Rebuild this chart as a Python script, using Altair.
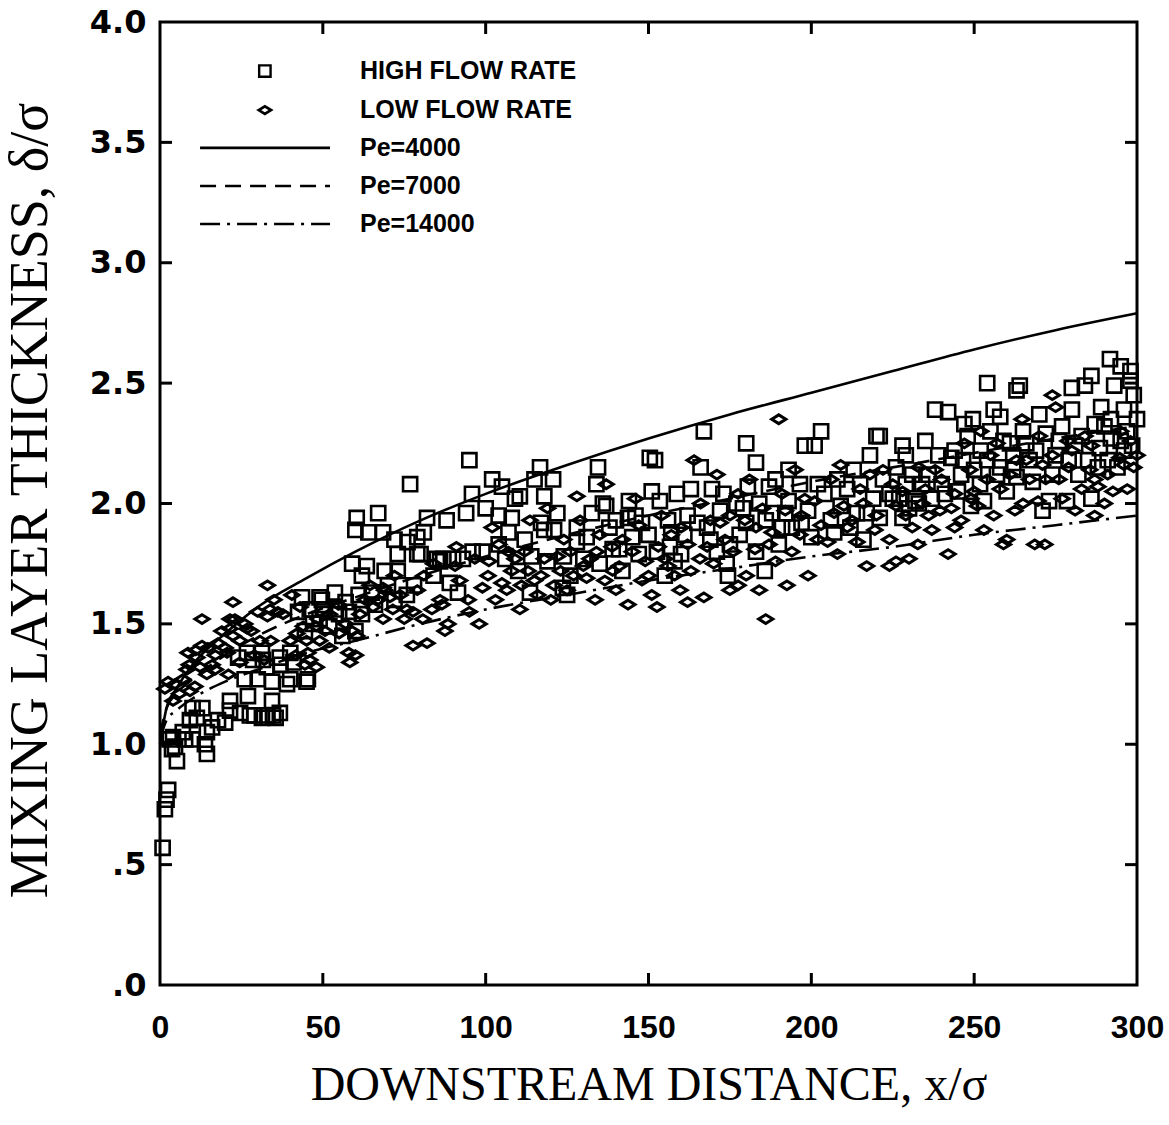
import altair as alt
import pandas as pd

# ---------------- data ----------------
hi_pts = [
    (0.8, 0.57), (1.5, 0.73), (2, 0.77), (2.5, 0.81), (3, 1.02), (3.7, 0.98), (4.6, 0.99), (5.2, 0.93),
    (4, 1.03), (7, 1.05), (7.7, 1.02), (9.2, 1.10), (10, 1.02), (10, 1.15), (11.3, 1.11), (13, 1.15),
    (13.8, 1.0), (14.4, 0.96), (14.4, 1.05), (16, 1.07), (17.8, 1.10), (20, 1.09), (21.5, 1.14),
    (24.6, 1.13), (27.6, 1.12), (31.3, 1.11), (34.7, 1.12), (36.8, 1.13), (35.5, 1.11), (33, 1.12),
    (29, 1.12), (21.5, 1.18), (27, 1.20), (34.4, 1.18), (26, 1.27), (30, 1.27), (34.4, 1.26), (39, 1.25),
    (45, 1.26), (32.8, 1.32), (37, 1.33), (41, 1.34), (24, 1.36), (28.6, 1.35), (31.6, 1.35), (26.7, 1.38),
    (31.3, 1.38), (36.8, 1.36), (40, 1.38),
    (43.6, 1.61), (49.7, 1.60), (53.7, 1.63), (42.4, 1.55), (46, 1.56), (50, 1.56), (54, 1.56), (58, 1.55),
    (57, 1.59), (62, 1.54), (49, 1.61), (61, 1.62), (44.5, 1.47), (49, 1.52), (55, 1.54), (47, 1.50),
    (52, 1.49), (56, 1.45), (60, 1.47), (45.4, 1.27), (40, 1.27),
    (60.4, 1.94), (67, 1.96), (60, 1.89), (64, 1.88), (68.5, 1.88), (72, 1.85), (79, 1.86), (81, 1.88),
    (73, 1.79), (79, 1.79), (59, 1.75), (63.5, 1.74), (69, 1.72), (73, 1.72), (76.8, 2.08), (82, 1.94),
    (88, 1.93), (94, 1.96), (100, 1.98), (95.8, 2.04), (95, 2.18), (85, 1.77), (87, 1.77), (90, 1.77),
    (93, 1.77), (96, 1.80), (99, 1.80), (75.8, 1.62), (91.5, 1.63), (65, 1.63), (76, 1.84), (80, 1.79),
    (86, 1.76), (70, 1.66), (84, 1.70), (89, 1.67), (66, 1.58), (72, 1.60), (78, 1.66), (62, 1.70),
    (102, 2.10), (108, 1.94), (115, 2.10), (116.7, 2.15), (120.7, 2.10), (122, 1.96), (113.6, 1.63),
    (123.7, 1.65), (130, 1.77), (132.6, 1.96), (134.5, 2.15), (134, 2.08), (139, 1.81), (143.7, 1.94),
    (150.4, 2.19), (152.6, 1.80), (156.6, 1.82), (158.7, 2.04), (104, 1.83), (106, 1.77), (110, 1.72),
    (112, 1.85), (118, 1.89), (121, 1.89), (125, 1.62), (126, 1.70), (128, 1.84), (137, 1.99), (140, 1.93),
    (144, 2.01), (147, 1.79), (152, 2.18), (153.5, 2.01), (156, 1.93), (160, 1.79), (110.5, 2.03),
    (118, 2.03), (105, 2.07), (128, 1.90), (135, 1.75), (142, 1.72), (145, 1.86), (148, 1.92), (150, 1.87),
    (155, 1.70), (158, 1.76), (119, 1.76), (107, 1.88), (136, 2.00), (141, 1.81),
    (104, 1.95), (109, 2.02), (114, 1.78), (117, 1.92), (124, 1.78), (131, 1.86), (138, 1.90), (146, 1.95),
    (151, 2.05), (157, 1.88),
    (163, 2.06), (166, 2.15), (167, 2.30), (169, 1.85), (169.5, 2.06), (172, 1.97), (174, 1.75),
    (174.4, 1.70), (175, 1.83), (178, 1.87), (180, 2.25), (180, 1.92), (180.5, 2.07), (183, 2.17),
    (185.7, 1.72), (186, 1.93), (190, 1.83), (193, 2.14), (193, 2.01), (194, 1.90), (196.5, 2.08),
    (198, 2.24), (201, 2.24), (203, 2.30), (206, 1.93), (209, 1.99), (213, 2.14), (216, 1.85), (218, 2.20),
    (220, 2.28), (165, 1.92), (171, 1.80), (177, 2.00), (183, 1.80), (188, 1.96), (191, 1.90), (199, 1.97),
    (204, 2.04), (207, 1.88), (211, 2.06), (214, 1.96), (219, 2.02), (161, 1.87), (189, 2.10), (200, 1.86),
    (212, 1.90), (162, 1.95), (168, 1.90), (173, 2.04), (179, 1.98), (184, 2.00), (187, 2.07), (192, 1.96),
    (197, 1.92), (202, 2.08), (208, 2.10), (215, 2.08), (217, 1.96),
    (221, 2.28), (221, 1.94), (224, 2.04), (225, 2.02), (227, 2.02), (228, 1.94), (228, 2.24), (229, 2.20),
    (229, 2.08), (232, 2.01), (233, 2.00), (235, 2.26), (238, 2.39), (242, 2.38), (241, 2.04), (243, 2.19),
    (244, 2.22), (246.6, 2.18), (247, 2.33), (249, 1.99), (249.6, 2.35), (250, 2.14), (251.8, 2.08),
    (253, 2.01), (254, 2.50), (256, 2.39), (258, 2.15), (259, 2.26), (261, 2.25), (262, 2.14), (263, 2.47),
    (263, 2.11), (264, 2.49), (267, 2.18), (268, 2.09), (270, 2.37), (271, 1.97), (272, 2.29), (273, 2.01),
    (276, 2.26), (278.5, 2.01), (279, 2.18), (280, 2.48), (280, 2.39), (284, 2.49), (286, 2.53), (286, 2.02),
    (287, 2.33), (288.6, 2.23), (290, 2.32), (291.7, 2.60), (292, 2.35), (293, 2.49), (294, 2.15),
    (295, 2.57), (295, 2.26), (296, 2.39), (298, 2.51), (298, 2.55), (298.5, 2.24), (236, 2.12), (240, 2.08),
    (255, 2.30), (260, 2.05), (265, 2.30), (275, 2.20), (282, 2.12), (289, 2.40), (297, 2.30), (226, 2.15),
    (231, 2.12), (245, 2.05), (252, 2.22), (257, 2.12), (266, 2.25), (274, 2.12), (283, 2.28), (285, 2.18),
    (291, 2.18), (299, 2.45), (222, 2.10), (230, 1.98), (234, 2.08), (237, 2.02), (239, 2.20), (246, 2.12),
    (248, 2.28), (254, 2.18), (258, 2.36), (262, 2.20), (269, 2.22), (277, 2.32), (281, 2.24), (288, 2.15),
    (292, 2.27), (296, 2.22), (300, 2.35),
]

lo_pts = [
    (1.5, 1.23), (2.5, 1.26), (4, 1.18), (4.6, 1.25), (6, 1.21), (7, 1.27), (8.3, 1.31), (8.6, 1.38),
    (9, 1.33), (9.2, 1.22), (10.7, 1.24), (11, 1.39), (11.3, 1.36), (12.3, 1.32), (12.9, 1.52), (12.9, 1.41),
    (14.4, 1.29), (14.7, 1.40), (16, 1.33), (17, 1.37), (17.8, 1.42), (19, 1.47), (20, 1.40), (20.6, 1.38),
    (21.5, 1.52), (21.5, 1.48), (22.4, 1.59), (22.4, 1.45), (23, 1.52), (24.5, 1.43), (26, 1.50),
    (26.7, 1.48), (28, 1.47), (30, 1.55), (30.7, 1.43), (33, 1.66), (33, 1.53), (33.8, 1.56), (35, 1.60),
    (36.2, 1.55), (37.8, 1.54), (40, 1.43), (41.7, 1.37), (44.5, 1.33), (17, 1.31), (21, 1.29), (24.5, 1.34),
    (29, 1.37), (32, 1.35), (34, 1.43),
    (42, 1.46), (44, 1.49), (48, 1.49), (45, 1.43), (49, 1.43), (46, 1.35), (48, 1.32), (58.3, 1.34),
    (45.4, 1.38), (58, 1.38), (59, 1.47), (60.4, 1.45), (48.5, 1.52), (50.7, 1.47), (52, 1.54), (54.7, 1.58),
    (57, 1.50), (60, 1.37), (61.4, 1.54), (55, 1.46), (52, 1.40), (40.5, 1.62), (43, 1.57),
    (63, 1.60), (64.5, 1.66), (67, 1.60), (69, 1.64), (71.5, 1.56), (73.7, 1.62), (75, 1.52), (79, 1.64),
    (81, 1.70), (83.5, 1.56), (86, 1.60), (87.5, 1.47), (90.6, 1.74), (92, 1.68), (94.6, 1.60), (96.7, 1.77),
    (98, 1.50), (68.5, 1.65), (70.6, 1.61), (75.8, 1.56), (77.7, 1.55), (80.7, 1.52), (86.6, 1.58),
    (68.5, 1.52), (65.4, 1.57), (77.7, 1.41), (82, 1.42), (88.4, 1.50), (72, 1.70), (84, 1.75), (91, 1.82),
    (95, 1.55), (99, 1.65),
    (100.7, 1.70), (103, 1.60), (104, 1.83), (106.5, 1.64), (109, 1.77), (110.5, 1.56), (113.6, 1.93),
    (115, 1.68), (118, 1.77), (120, 1.60), (123, 1.72), (124, 1.85), (127, 1.70), (129, 1.93), (132, 1.77),
    (133.6, 1.60), (136.6, 1.68), (138.8, 1.82), (141, 1.74), (143.7, 1.58), (147, 1.91), (150, 1.70),
    (151, 1.62), (152.6, 1.57), (155, 1.77), (157, 1.87), (159.7, 1.64), (102, 1.90), (108, 1.72),
    (112, 1.80), (116, 1.62), (121, 1.66), (126, 1.80), (131, 1.69), (135, 1.87), (140, 1.64), (145, 1.80),
    (149, 1.76), (154, 1.95), (158, 1.70), (111, 1.66), (119, 1.98), (128, 2.03), (137, 2.08), (146, 2.02),
    (101, 1.76), (105, 1.67), (107, 1.80), (113, 1.72), (117, 1.70), (122, 1.78), (125, 1.64), (130, 1.74),
    (134, 1.80), (139, 1.72), (142, 1.85), (148, 1.68), (153, 1.82), (156, 1.74),
    (162, 1.59), (162, 1.83), (164, 2.18), (165.8, 1.77), (167, 1.61), (169, 1.93), (171, 2.12),
    (173.5, 1.85), (175, 1.64), (177.5, 1.66), (177.5, 2.04), (179.6, 1.93), (182.7, 1.81), (184, 1.64),
    (186, 1.52), (187, 1.83), (190, 2.35), (192, 1.97), (192.5, 1.66), (195, 2.14), (196.5, 1.87),
    (199, 1.70), (201, 2.01), (203, 1.91), (206, 2.10), (208, 1.79), (210, 1.99), (212.5, 1.93), (215, 2.06),
    (217, 1.74), (219.5, 1.89), (166, 2.00), (170, 1.75), (181, 2.10), (185, 1.98), (189, 1.76), (194, 1.80),
    (198, 2.02), (205, 1.84), (209, 2.16), (214, 1.84), (218, 2.12), (175, 1.95), (160, 1.90), (163, 1.72),
    (168, 1.82), (172, 1.92), (176, 1.80), (180, 1.70), (183, 1.90), (188, 1.88), (191, 2.04), (197, 1.95),
    (202, 1.85), (207, 1.96), (211, 1.90), (216, 2.00), (220, 1.95),
    (222, 2.14), (224, 1.85), (224, 1.74), (226, 1.99), (226, 1.76), (229, 1.95), (230, 1.77),
    (232.7, 1.83), (235, 2.06), (237, 1.89), (239.5, 1.97), (242, 1.79), (244, 2.04), (246, 1.93),
    (248.7, 2.14), (251, 1.99), (253, 1.89), (255, 2.20), (258, 2.06), (259, 1.83), (260, 1.85),
    (262.5, 1.97), (264.7, 2.35), (267, 2.10), (268.6, 1.83), (269.6, 2.01), (271.7, 1.83), (274, 2.20),
    (274, 2.45), (275, 2.40), (276, 2.10), (278.8, 2.26), (281, 1.97), (283, 2.06), (285.5, 2.14),
    (287, 1.95), (288, 2.07), (292.6, 2.05), (294.7, 2.19), (297, 2.06), (298, 2.26), (228, 2.05),
    (233, 2.15), (240, 2.10), (247, 2.25), (250, 2.05), (257, 2.25), (263, 2.18), (270, 2.28), (279, 2.15),
    (284, 2.28), (290, 2.00), (299, 2.15), (236, 1.95), (244, 1.90), (252, 2.30), (265, 2.00), (272, 2.10),
    (286, 2.24), (295, 2.30), (225, 2.08), (231, 1.90), (234, 2.00), (238, 2.14), (243, 1.98), (249, 2.02),
    (254, 2.10), (256, 1.95), (261, 2.12), (266, 2.18), (271, 2.16), (277, 2.02), (280, 2.22), (287, 2.10),
    (291, 2.12), (296, 2.16), (300, 2.20),
]

curve_x = [0, 2, 5, 10, 20, 30, 45, 60, 80, 100, 125, 150, 175, 200, 225, 250, 275, 300]
pe4000_y = [1.00, 1.15, 1.23, 1.33, 1.46, 1.57, 1.69, 1.80, 1.93, 2.04, 2.16, 2.27, 2.37, 2.46, 2.55, 2.64, 2.72, 2.79]
pe7000_y = [1.04, 1.15, 1.21, 1.27, 1.37, 1.45, 1.54, 1.61, 1.70, 1.78, 1.87, 1.95, 2.02, 2.09, 2.15, 2.21, 2.27, 2.32]
pe14000_y = [1.02, 1.10, 1.14, 1.19, 1.26, 1.31, 1.38, 1.43, 1.50, 1.56, 1.62, 1.68, 1.73, 1.78, 1.82, 1.87, 1.91, 1.95]

x_ticks = [0, 50, 100, 150, 200, 250, 300]
y_ticks = [0, 0.5, 1.0, 1.5, 2.0, 2.5, 3.0, 3.5, 4.0]

legend_labels = ["HIGH FLOW RATE", "LOW FLOW RATE", "Pe=4000", "Pe=7000", "Pe=14000"]
legend_rows_y = [3.796, 3.634, 3.477, 3.319, 3.161]
legend_sym_x = 32.2
legend_line_x = [12.3, 52.2]
legend_text_x = 61.4

# ---------------- build ----------------
W, H = 977, 963
xs = alt.Scale(domain=[0, 300], nice=False, zero=False)
ys = alt.Scale(domain=[0, 4], nice=False, zero=False)

x_axis = alt.Axis(
    values=x_ticks, title="DOWNSTREAM DISTANCE, x/σ", grid=False, domain=False, ticks=False, tickSize=0,
    labelFont="Liberation Sans", labelFontSize=32, labelFontWeight="bold", labelColor="black",
    labelPadding=27, labelFlush=False,
    titleFont="Liberation Serif", titleFontSize=48, titleFontWeight="normal", titleColor="black",
    titleY=100, titleX=W / 2, titleBaseline="middle",
)
y_axis = alt.Axis(
    values=y_ticks, title="MIXING LAYER THICKNESS, δ/σ", grid=False, domain=False, ticks=False, tickSize=0,
    labelFont="DejaVu Sans", labelFontSize=32, labelFontWeight="bold", labelColor="black",
    labelPadding=14, labelFlush=False,
    labelExpr="datum.value < 1 ? replace(format(datum.value, '.1f'), '0.', '.') : format(datum.value, '.1f')",
    titleFont="Liberation Serif", titleFontSize=54, titleFontWeight="normal", titleColor="black",
    titleX=-130, titleY=478, titleBaseline="middle", titleAlign="center", titleAngle=270,
)


def X(field="x"):
    return alt.X(f"{field}:Q", scale=xs, axis=x_axis)


def Y(field="y"):
    return alt.Y(f"{field}:Q", scale=ys, axis=y_axis)


df_hi = pd.DataFrame(hi_pts, columns=["x", "y"])
df_lo = pd.DataFrame(lo_pts, columns=["x", "y"])

diamond_path = "M-1,0L0,-0.62L1,0L0,0.62Z"

hi_layer = alt.Chart(df_hi).mark_point(
    shape="square", size=200, filled=False, stroke="black", strokeWidth=2.6, opacity=1
).encode(x=X(), y=Y())

lo_layer = alt.Chart(df_lo).mark_point(
    shape=diamond_path, size=200, filled=False, stroke="black", strokeWidth=3, opacity=1
).encode(x=X(), y=Y())


def curve(yvals, dash):
    d = pd.DataFrame({"x": curve_x, "y": yvals})
    kw = dict(color="black", strokeWidth=2.6, interpolate="monotone")
    if dash:
        kw["strokeDash"] = dash
    return alt.Chart(d).mark_line(**kw).encode(x=X(), y=Y())


c4000 = curve(pe4000_y, None)
c7000 = curve(pe7000_y, [16, 9])
c14000 = curve(pe14000_y, [20, 7, 3, 7])

# legend (in data units)
leg_sq_layer = alt.Chart(pd.DataFrame({"x": [legend_sym_x], "y": [legend_rows_y[0]]})).mark_point(
    shape="square", size=130, filled=False, stroke="black", strokeWidth=2.4, opacity=1
).encode(x=X(), y=Y())
leg_dia_layer = alt.Chart(pd.DataFrame({"x": [legend_sym_x], "y": [legend_rows_y[1]]})).mark_point(
    shape=diamond_path, size=150, filled=False, stroke="black", strokeWidth=2.8, opacity=1
).encode(x=X(), y=Y())


def leg_line(row, dash):
    d = pd.DataFrame({"x": [legend_line_x[0]], "x2": [legend_line_x[1]], "y": [legend_rows_y[row]]})
    kw = dict(color="black", strokeWidth=2.6)
    if dash:
        kw["strokeDash"] = dash
    return alt.Chart(d).mark_rule(**kw).encode(x=X(), x2="x2:Q", y=Y())


leg_text = alt.Chart(pd.DataFrame({"x": [legend_text_x] * 5, "y": legend_rows_y, "t": legend_labels})).mark_text(
    align="left", baseline="middle", font="Liberation Sans", fontSize=25, fontWeight="bold", color="black"
).encode(x=X(), y=Y(), text="t:N")

# inward ticks
df_xt = pd.DataFrame({"x": x_ticks[1:-1]})
df_yt = pd.DataFrame({"y": y_ticks[1:-1]})
tick_kw = dict(color="black", strokeWidth=3)
xt_bot = alt.Chart(df_xt).mark_rule(**tick_kw).encode(x=X(), y=alt.value(H), y2=alt.value(H - 12))
xt_top = alt.Chart(df_xt).mark_rule(**tick_kw).encode(x=X(), y=alt.value(0), y2=alt.value(12))
yt_left = alt.Chart(df_yt).mark_rule(**tick_kw).encode(y=Y(), x=alt.value(0), x2=alt.value(12))
yt_right = alt.Chart(df_yt).mark_rule(**tick_kw).encode(y=Y(), x=alt.value(W), x2=alt.value(W - 12))

chart = alt.layer(
    hi_layer, lo_layer, c4000, c7000, c14000,
    leg_sq_layer, leg_dia_layer, leg_line(2, None), leg_line(3, [16, 9]), leg_line(4, [20, 7, 3, 7]),
    leg_text, xt_bot, xt_top, yt_left, yt_right,
).properties(
    width=W, height=H,
    autosize=alt.AutoSizeParams(type="none"),
    padding={"left": 160, "top": 22, "right": 32, "bottom": 140},
    background="white",
).configure_view(stroke="black", strokeWidth=3)

chart.save("out.html", embed_options={"renderer": "svg", "actions": False})
